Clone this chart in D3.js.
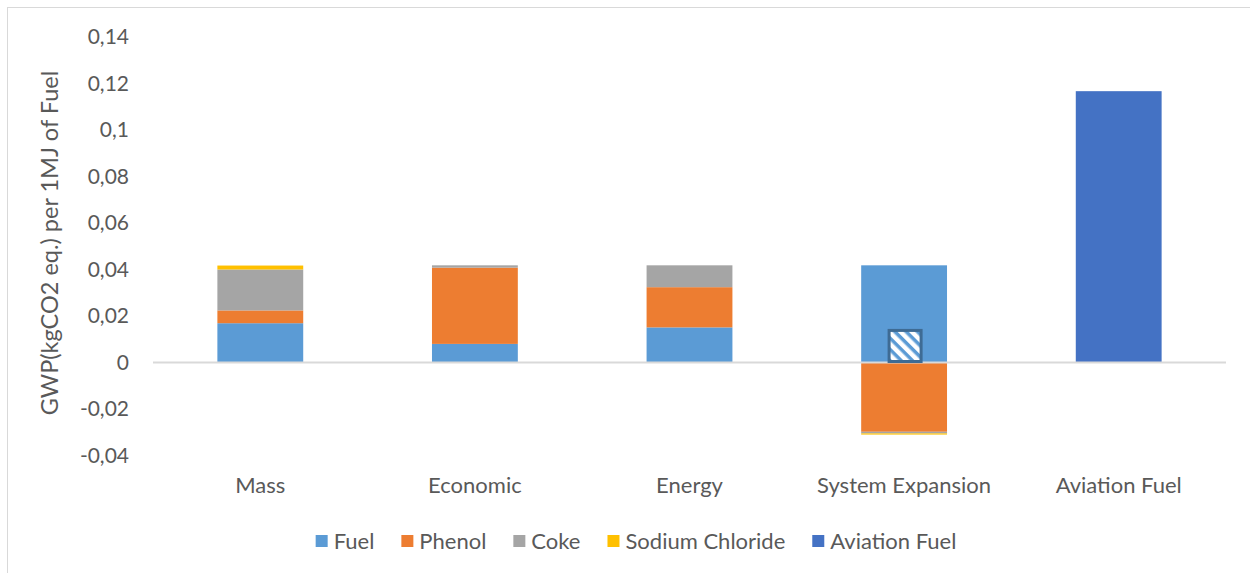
<!DOCTYPE html>
<html>
<head>
<meta charset="utf-8">
<script src="https://cdn.jsdelivr.net/npm/d3@7"></script>
<style>
  body { margin: 0; background: #fff; }
  svg text { font-family: Lato, "Open Sans", sans-serif; fill: #595959; }
</style>
</head>
<body>
<svg id="chart" width="1250" height="573"></svg>
<script>
// GWP per allocation method, stacked by co-product
var categories = ["Mass", "Economic", "Energy", "System Expansion", "Aviation Fuel"];
var seriesNames = ["Fuel", "Phenol", "Coke", "Sodium Chloride", "Aviation Fuel"];

var fuel     = [0.0169, 0.0080, 0.0151, 0.0418, 0];
var phenol   = [0.0055, 0.0328, 0.0173, -0.0298, 0];
var coke     = [0.0176, 0.0010, 0.0094, -0.0007, 0];
var sodium   = [0.0017, 0, 0, -0.0005, 0];
var aviation = [0, 0, 0, 0, 0.1167];

var yTicks = [-0.04, -0.02, 0, 0.02, 0.04, 0.06, 0.08, 0.1, 0.12, 0.14];

// little hatched marker sitting on the System Expansion bar
var markerCategory = "System Expansion";
var markerValue = 0.0138;

var colors = ["#5b9bd5", "#ed7d31", "#a5a5a5", "#ffc000", "#4472c4"];

////////////////////////////// BUILD //////////////////////////////

var svg = d3.select("#chart");

var rows = categories.map(function(c, i) {
    return { cat: c, "Fuel": fuel[i], "Phenol": phenol[i], "Coke": coke[i],
             "Sodium Chloride": sodium[i], "Aviation Fuel": aviation[i] };
});

var stacked = d3.stack().keys(seriesNames).offset(d3.stackOffsetDiverging)(rows);

var x = d3.scaleBand().domain(categories).range([153, 1226]);
var y = d3.scaleLinear().domain([-0.04, 0.14]).range([455.5, 37]);
var barW = x.bandwidth() * 0.4;

// outer chart border (only top/left visible in frame)
svg.append("rect")
    .attr("x", 7.5).attr("y", 7.5)
    .attr("width", 1260).attr("height", 600)
    .attr("fill", "none").attr("stroke", "#d9d9d9").attr("stroke-width", 1);

// hatch pattern
var defs = svg.append("defs");
var pat = defs.append("pattern")
    .attr("id", "hatch")
    .attr("patternUnits", "userSpaceOnUse")
    .attr("width", 8).attr("height", 8)
    .attr("patternTransform", "rotate(45)");
pat.append("rect").attr("width", 8).attr("height", 8).attr("fill", "#fff");
pat.append("rect").attr("width", 8).attr("height", 3.5).attr("fill", "#5b9bd5");

// bars
var layers = svg.append("g").selectAll("g")
    .data(stacked).enter().append("g")
    .attr("fill", function(d, i) { return colors[i]; });

layers.selectAll("rect")
    .data(function(d) { return d.filter(function(s) { return s[1] - s[0] !== 0; }); })
    .enter().append("rect")
    .attr("x", function(d) { return x(d.data.cat) + (x.bandwidth() - barW) / 2; })
    .attr("width", barW)
    .attr("y", function(d) { return y(Math.max(d[0], d[1])); })
    .attr("height", function(d) { return Math.abs(y(d[0]) - y(d[1])); });

// zero line
svg.append("line")
    .attr("x1", x.range()[0]).attr("x2", x.range()[1])
    .attr("y1", y(0)).attr("y2", y(0))
    .attr("stroke", "#d9d9d9").attr("stroke-width", 2);

// hatched marker
var mW = 32;
svg.append("rect")
    .attr("x", x(markerCategory) + x.bandwidth() / 2 - mW / 2 + 1)
    .attr("y", y(markerValue))
    .attr("width", mW)
    .attr("height", y(0) - y(markerValue) - 1)
    .attr("fill", "url(#hatch)")
    .attr("stroke", "#3e6b94").attr("stroke-width", 3);

// y axis labels
var yAxis = svg.append("g")
    .attr("transform", "translate(129,0)")
    .call(d3.axisLeft(y).tickValues(yTicks).tickSize(0).tickPadding(0)
        .tickFormat(function(d) { return d === 0 ? "0" : String(d).replace(".", ","); }));
yAxis.select(".domain").remove();
yAxis.selectAll("text")
    .style("font-size", "21px").style("font-family", "Lato, sans-serif").attr("fill", "#595959");

// category labels
var xAxis = svg.append("g")
    .attr("transform", "translate(0,477)")
    .call(d3.axisBottom(x).tickSize(0).tickPadding(0));
xAxis.select(".domain").remove();
xAxis.selectAll("text")
    .style("font-size", "22px").style("font-family", "Lato, sans-serif").attr("fill", "#595959");

// y axis title
svg.append("text")
    .attr("transform", "translate(58,243) rotate(-90)")
    .attr("text-anchor", "middle")
    .style("font-size", "23.5px")
    .text("GWP(kgCO2 eq.) per 1MJ of Fuel");

// legend
var legend = svg.append("g").attr("transform", "translate(0,541)");
var cx = 0;
seriesNames.forEach(function(name, i) {
    var g = legend.append("g").attr("transform", "translate(" + cx + ",0)");
    g.append("rect").attr("x", 0).attr("y", -6).attr("width", 12).attr("height", 12)
        .attr("fill", colors[i]);
    var t = g.append("text").attr("x", 18).attr("dy", "0.35em")
        .style("font-size", "22px").text(name);
    cx += 18 + t.node().getComputedTextLength() + 27;
});
var legW = cx - 27;
legend.attr("transform", "translate(" + (636 - legW / 2) + ",541)");
</script>
</body>
</html>
